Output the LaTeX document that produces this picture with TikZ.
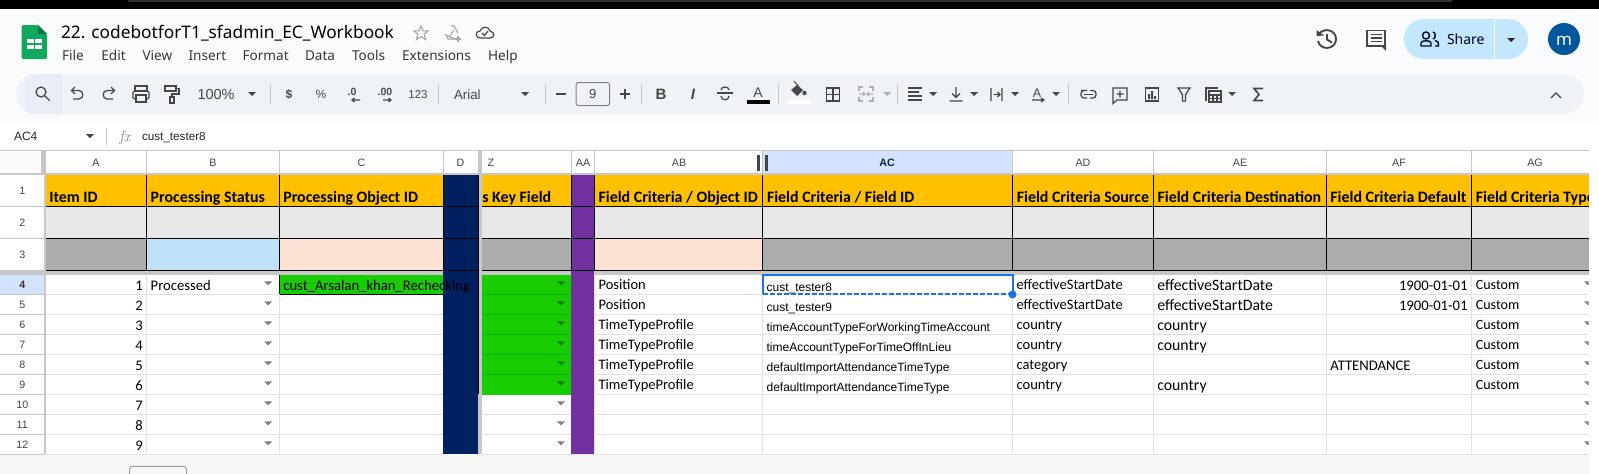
\documentclass[tikz,border=0pt]{standalone}
\usepackage{fontspec}
\newfontfamily\fcal{Carlito}
\newfontfamily\far{Liberation Sans}
\newfontfamily\fui{Noto Sans}
\newcommand\fsz[1]{\fontsize{#1}{#1}\selectfont}
\definecolor{appbg}{HTML}{F9FBFD}
\definecolor{tbar}{HTML}{EFF3F8}
\definecolor{tsel}{HTML}{E9EEF6}
\definecolor{icon}{HTML}{444746}
\definecolor{sepc}{HTML}{C7C7C7}
\definecolor{sharec}{HTML}{C2E7FF}
\definecolor{avatar}{HTML}{01579B}
\definecolor{sgreen}{HTML}{0FA85E}
\definecolor{bott}{HTML}{F6F8F6}
\definecolor{gridc}{HTML}{E1E1E1}
\definecolor{orangeh}{HTML}{FFC000}
\definecolor{lgray}{HTML}{E7E7E7}
\definecolor{dgray}{HTML}{ACACAC}
\definecolor{lblue}{HTML}{BFE2F6}
\definecolor{peach}{HTML}{FBE2D5}
\definecolor{navyc}{HTML}{002060}
\definecolor{purplec}{HTML}{7030A0}
\definecolor{greenc}{HTML}{17CC00}
\definecolor{greenl}{HTML}{13AE00}
\definecolor{selhead}{HTML}{D3E3FD}
\definecolor{selblue}{HTML}{1A73E8}
\definecolor{darktxt}{HTML}{444444}
\tikzset{
  x=1pt,y=-1pt,
  every node/.style={inner sep=0pt,outer sep=0pt,text=black},
  ic/.style={draw=icon,line width=1.25pt,fill=none},
  icf/.style={fill=icon,draw=none},
  sepl/.style={draw=sepc,line width=1pt},
  gridl/.style={draw=gridc,line width=1pt},
  blackl/.style={draw=black,line width=0.9pt},
  title/.style={font=\fui\fsz{17.3},anchor=base west},
  menu/.style={font=\fui\fsz{13.6},anchor=base west,text=darktxt!80!black},
  tool/.style={font=\far\fsz{13},anchor=base,text=icon},
  collab/.style={font=\far\fsz{10.7},anchor=base,text=darktxt},
  rowlab/.style={font=\far\fsz{10.7},anchor=base,text=darktxt},
  hdr/.style={font=\fcal\bfseries\fsz{15.9},anchor=base west},
  cella/.style={font=\fcal\fsz{14.67},anchor=base west},
  cellae/.style={font=\fcal\fsz{15.8},anchor=base west},
  cellb/.style={font=\fcal\fsz{14.5},anchor=base west},
  cellg/.style={font=\fcal\fsz{14.1},anchor=base west},
  cellc/.style={font=\far\fsz{12},anchor=base west},
  num/.style={font=\fcal\fsz{14.67},anchor=base east},
}
\newcount\tn
\newcommand\T[4]{\global\advance\tn by 1\relax\node[#1] (t\the\tn) at (#2,#3) {#4};}
\newcommand\tri[3]{\fill[#3] ({#1-4},{#2-2}) -- ({#1+4},{#2-2}) -- (#1,{#2+2}) -- cycle;}
\begin{document}
\begin{tikzpicture}
\useasboundingbox (0,0) rectangle (1599,474);
\fill[white] (0,0) rectangle (1599,474);
% window top
\fill[black] (0,0) rectangle (1599,8.5);
\begin{scope}
  \clip (0,0) rectangle (1599,8.5);
  \fill[black!82,rounded corners=2pt] (128,-4) rectangle (1453,2);
\end{scope}
% app bar
\fill[appbg] (0,8.5) rectangle (1599,122);
\fill[tbar,rounded corners=20pt] (16,74) rectangle (1584,114);
\begin{scope}
  \clip[rounded corners=20pt] (16,74) rectangle (1584,114);
  \fill[tsel] (25,74) rectangle (62,114);
\end{scope}
% sheets logo
\fill[sgreen,rounded corners=1.5pt] (21.5,25) -- (38,25) -- (47,34) -- (47,59) -- (21.5,59) -- cycle;
\fill[sgreen!70!black] (38,25) -- (47,34) -- (38,34) -- cycle;
\fill[white] (27,39) rectangle (42,49);
\draw[sgreen,line width=1.4pt] (34.5,39) -- (34.5,49) (27,44) -- (42,44);
% title and menu
\T{title}{61}{38}{22. codebotforT1\_sfadmin\_EC\_Workbook}
\foreach \mx/\mt in {62/File,101.4/Edit,142.5/View,188.6/Insert,242.5/Format,305/Data,352/Tools,402/Extensions,488/Help}{
  \node[menu] (m\mt) at (\mx,60) {\mt};
}
% star, drive, cloud
\begin{scope}[shift={(421,33)},draw=gray!70,line width=1.1pt]
  \draw (0,-7) -- (2,-2.2) -- (7,-2) -- (3.2,1.2) -- (4.5,6.5) -- (0,3.6) -- (-4.5,6.5) -- (-3.2,1.2) -- (-7,-2) -- (-2,-2.2) -- cycle;
\end{scope}
\begin{scope}[shift={(453,33)},draw=gray!70,line width=1.1pt]
  \draw (-2,-7) -- (1,-7) -- (5,0) (2,6) -- (-5,6) -- (-7,2) -- cycle (-3,3) -- (1,-3);
  \draw (5,3) -- (5,9) (2,6) -- (8,6);
\end{scope}
\begin{scope}[shift={(485,33)},draw=icon,line width=1.2pt]
  \draw (-5,5) .. controls (-10,5) and (-10,-2) .. (-5,-2) .. controls (-3,-7) and (4,-7) .. (5,-2) .. controls (10,-1) and (10,5) .. (5,5) -- cycle;
  \draw (-3,0) -- (-0.5,2.5) -- (3,-2);
\end{scope}
% right actions
\begin{scope}[shift={(1327,39)},draw=icon,line width=1.9pt]
  \draw (-8,-5) .. controls (-3,-12) and (9,-9) .. (9,0) .. controls (9,11) and (-7,12) .. (-9,2);
  \fill[icon] (-10.5,-9) -- (-3,-3.5) -- (-10.5,-3) -- cycle;
  \draw (0,-5) -- (0,0.5) -- (5,3.5);
\end{scope}
\begin{scope}[shift={(1376,39)},draw=icon,line width=1.9pt]
  \draw (-9,-8.5) rectangle (9,7);
  \fill[icon] (5,7) -- (10,7) -- (10,12) -- cycle;
  \draw[line width=1.4pt] (-5.5,-4.5) -- (5.5,-4.5) (-5.5,-1) -- (5.5,-1) (-5.5,2.5) -- (5.5,2.5);
\end{scope}
\fill[sharec,rounded corners=20pt] (1404,19) rectangle (1528,59);
\draw[white,line width=1pt] (1494.5,19) -- (1494.5,59);
\begin{scope}[shift={(1430,39)},draw=black!80!blue,line width=1.4pt]
  \draw (-4,-3.5) circle[radius=3.5pt];
  \draw (-9,7) -- (-9,4) .. controls (-9,1) and (1,1) .. (1,4) -- (1,7) -- cycle;
  \draw (3,-7) .. controls (6,-7) and (6,0) .. (3,0);
  \draw (5,1.5) .. controls (8,2) and (8.5,3) .. (8.5,7) -- (5,7);
\end{scope}
\node[font=\fui\fsz{14},anchor=base west,text=black!85!blue] (share) at (1447,44.5) {Share};
\tri{1511}{40}{black!85}
\fill[avatar] (1564,39) circle[radius=16pt];
\node[font=\fui\fsz{17},anchor=base,text=white] (avatarm) at (1564,45) {m};
% toolbar icons
\begin{scope}[ic]
  \draw (41,92) circle[radius=5pt]; \draw (44.6,95.6) -- (49.5,100.5);
  \draw (72,90.5) -- (79,90.5) .. controls (84,90.5) and (84,99) .. (79,99) -- (73,99);
  \draw (75,87) -- (71.5,90.5) -- (75,94);
  \draw (114,90.5) -- (107,90.5) .. controls (102,90.5) and (102,99) .. (107,99) -- (113,99);
  \draw (111,87) -- (114.5,90.5) -- (111,94);
  \draw (135,86) rectangle (147,91);
  \draw[rounded corners=1.5pt] (133,91) rectangle (149,99);
  \draw[fill=tbar] (136,95) rectangle (146,102);
  \draw (165,86) rectangle (176,91);
  \draw (176,88.5) -- (179,88.5) -- (179,94) -- (172,94) -- (172,97);
  \draw (170,97) rectangle (174,103);
\end{scope}
\T{font=\far\fsz{14.5},anchor=base west,text=icon}{197.5}{99}{100\%}
\tri{252}{94}{icon}
\draw[sepl] (270,84) -- (270,104);
\T{font=\far\bfseries\fsz{12},anchor=base,text=icon}{289}{98.5}{\$}
\T{font=\far\fsz{12},anchor=base,text=icon}{321}{98.5}{\%}
\T{font=\far\bfseries\fsz{10.5},anchor=base,text=icon}{352}{95}{.0}
\T{font=\far\bfseries\fsz{10.5},anchor=base,text=icon}{385}{95}{.00}
\draw[icon,line width=1.2pt] (360,100) -- (352,100) (354.5,98) -- (352,100) -- (354.5,102);
\draw[icon,line width=1.2pt] (383,100) -- (391,100) (388.5,98) -- (391,100) -- (388.5,102);
\T{font=\far\fsz{11.5},anchor=base,text=icon}{418}{98.5}{123}
\draw[sepl] (438,84) -- (438,104);
\T{font=\far\fsz{13.3},anchor=base west,text=icon}{454}{99}{Arial}
\tri{525}{94}{icon}
\draw[sepl] (545,84) -- (545,104);
\draw[icon,line width=1.5pt] (556,94) -- (566,94);
\draw[draw=gray,line width=1pt,rounded corners=2.5pt] (576,82.5) rectangle (609.5,105.5);
\T{font=\far\fsz{13},anchor=base,text=icon}{592.8}{98.5}{9}
\draw[icon,line width=1.6pt] (620,94) -- (630,94) (625,89) -- (625,99);
\draw[sepl] (641.4,84) -- (641.4,104);
\T{font=\far\bfseries\fsz{15},anchor=base,text=icon}{661}{99.5}{B}
\T{font=\far\bfseries\itshape\fsz{15},anchor=base,text=icon}{693}{99.5}{I}
\begin{scope}[shift={(725,94)},ic]
  \draw (-8,-1) -- (8,-1);
  \draw (-4,-4) .. controls (-4,-8) and (4,-8) .. (4,-4);
  \draw (-4,2) .. controls (-4,7) and (4,7) .. (4,2);
\end{scope}
\T{font=\far\fsz{14},anchor=base,text=icon}{758}{97.5}{A}
\fill[black] (747,100) rectangle (770,104);
\draw[sepl] (778,84) -- (778,104);
\begin{scope}[shift={(797,90)}]
  \fill[icon] (-6,0) -- (0,-5) -- (6,0) -- (0,6) -- cycle;
  \draw[icon,line width=1pt] (-3,-9) -- (2,-3);
  \fill[icon] (7.5,3) circle[radius=2.2pt];
\end{scope}
\fill[white] (788,100) rectangle (811,104);
\draw[ic] (826.5,88) rectangle (839.5,101) (833,88) -- (833,101) (826.5,94.5) -- (839.5,94.5);
\begin{scope}[shift={(866,94)},draw=gray!60,line width=1.3pt]
  \draw (-7,-3) -- (-7,-7) -- (-3,-7) (3,-7) -- (7,-7) -- (7,-3) (-7,3) -- (-7,7) -- (-3,7) (3,7) -- (7,7) -- (7,3);
  \draw (-7,0) -- (-1,0) (-3,-2) -- (-1,0) -- (-3,2) (7,0) -- (1,0) (3,-2) -- (1,0) -- (3,2);
\end{scope}
\tri{887}{94}{gray!60}
\draw[sepl] (897.5,84) -- (897.5,104);
\draw[ic] (908,88) -- (922,88) (908,92) -- (919,92) (908,96) -- (922,96) (908,100) -- (922,100);
\tri{933}{94}{icon}
\draw[ic] (956,87) -- (956,97) (952,93.5) -- (956,97.5) -- (960,93.5) (949.5,101) -- (962.5,101);
\tri{974}{94}{icon}
\draw[ic] (991,88) -- (991,101) (1002,88) -- (1002,101) (993.5,94.5) -- (1000,94.5) (997.5,92) -- (1000,94.5) -- (997.5,97);
\tri{1015}{94}{icon}
\T{font=\far\fsz{12.5},anchor=base,text=icon}{1037}{97}{A}
\draw[icon,line width=1.2pt] (1032,100) -- (1044,100) (1041,98) -- (1044,100) -- (1041,102);
\tri{1056}{94}{icon}
\draw[sepl] (1068,84) -- (1068,104);
\draw[ic,rounded corners=3pt] (1086,90.5) -- (1084,90.5) -- (1081,90.5) -- (1081,98) -- (1087,98);
\draw[ic,rounded corners=3pt] (1090,90.5) -- (1096,90.5) -- (1096,98) -- (1090,98);
\draw[ic] (1084,94.3) -- (1093,94.3);
\draw[ic] (1113,88) -- (1127,88) -- (1127,100) -- (1117,100) -- (1113,103.5) -- cycle (1120,90.5) -- (1120,97.5) (1116.5,94) -- (1123.5,94);
\draw[ic] (1145.5,88) rectangle (1158.5,101);
\fill[icon] (1148,94) rectangle (1150,99) (1151,91) rectangle (1153,99) (1154,96) rectangle (1156,99);
\draw[ic] (1178,88) -- (1190,88) -- (1185.5,94.5) -- (1185.5,101) -- (1182.5,101) -- (1182.5,94.5) -- cycle;
\draw[ic] (1206,101) -- (1206,88) -- (1218,88);
\draw[ic] (1209,91) rectangle (1221,102) (1209,95) -- (1221,95) (1209,98.5) -- (1221,98.5) (1213,95) -- (1213,102) (1217,95) -- (1217,102);
\tri{1232}{94}{icon}
\draw[ic,line width=1.6pt] (1263,88.5) -- (1254,88.5) -- (1259,94.5) -- (1254,100.5) -- (1263,100.5);
\draw[ic] (1551,98) -- (1556,93) -- (1561,98);
% formula bar
\T{font=\far\fsz{12},anchor=base west,text=black!85}{14}{140.5}{AC4}
\tri{90}{136}{icon}
\draw[sepl] (106.4,128) -- (106.4,145);
\T{font=\rmfamily\itshape\fsz{15},anchor=base,text=gray}{125}{141}{fx}
\T{font=\far\fsz{11.7},anchor=base west,text=black!85}{142}{140.5}{cust\_tester8}
% sheet background
\fill[bott] (0,454.3) rectangle (1588.5,474);
\draw[draw=gray!80,line width=0.9pt,rounded corners=3pt] (129.5,476) -- (129.5,466.3) -- (186.5,466.3) -- (186.5,476);
% sheet header strips
\fill[black!2] (0,151) rectangle (41,170);
\fill[selhead] (762.5,151) rectangle (1012.5,174.3);
\fill[selhead] (0,275) rectangle (45,294.3);
% fills
\fill[orangeh] (46,174.5) rectangle (443,206.3);
\fill[orangeh] (482,174.5) rectangle (1588.5,206.3);
\fill[lgray] (46,206.3) rectangle (443,238.3);
\fill[lgray] (482,206.3) rectangle (1588.5,238.3);
\fill[dgray] (46,238.3) rectangle (443,270.3);
\fill[dgray] (482,238.3) rectangle (1588.5,270.3);
\fill[lblue] (146.5,238.3) rectangle (279.5,270.3);
\fill[peach] (279.5,238.3) rectangle (443,270.3);
\fill[peach] (594.3,238.3) rectangle (762.5,270.3);
\fill[greenc] (279.5,274.7) rectangle (443,294.3);
\fill[greenc] (482,274.7) rectangle (571.4,394.3);
% grid of the data rows
\foreach \yy in {294.3,314.3,334.3,354.3,374.3,394.3,414.3,434.3,454.3}{
  \draw[gridl] (46,\yy) -- (443,\yy);
  \draw[gridl] (482,\yy) -- (1588.5,\yy);
  \draw[sepl] (0,\yy) -- (45,\yy);
}
\foreach \xx in {146.5,279.5,594.3,762.5,1012.5,1153,1326.3,1471.3}{
  \draw[gridl] (\xx,274.7) -- (\xx,454.3);
}
\foreach \yy in {294.3,314.3,334.3,354.3,374.3}{\draw[greenl,line width=0.8pt] (482,\yy) -- (571.4,\yy);}
\fill[greenc] (482,393.8) rectangle (571.4,394.8);
% header separators
\draw[sepc,line width=1.2pt] (0,150.5) -- (1588.5,150.5);
\foreach \xx in {146.5,279.5,443,571.4,594.3,762.5,1012.5,1153,1326.3,1471.3}{
  \draw[sepl] (\xx,151) -- (\xx,174);
}
\foreach \yy in {206.3,238.3,270.3}{\draw[sepl] (0,\yy) -- (45,\yy);}
% frozen bands
\fill[sepc] (0,172.6) rectangle (1588.5,174.6);
\fill[sepc] (0,270.3) rectangle (1588.5,274.7);
\fill[sepc] (478,151) rectangle (482,454.3);
\fill[sepc] (41,151) rectangle (45.5,174.6);
\fill[sepc] (44.2,151) rectangle (45.8,454.3);
% navy and purple columns
\fill[navyc] (443,174.5) rectangle (477.7,454.3);
\fill[purplec] (571.4,174.5) rectangle (594.3,454.3);
% black borders
\foreach \yy in {206.3,238.3}{\draw[blackl] (46,\yy) -- (478,\yy) (482,\yy) -- (1588.5,\yy);}
\draw[black,line width=1.2pt] (46,270.3) -- (478,270.3) (482,270.3) -- (1588.5,270.3);
\foreach \xx in {146.5,279.5,443,571.4,594.3,762.5,1012.5,1153,1326.3,1471.3}{
  \draw[blackl] (\xx,174.5) -- (\xx,270.3);
}
\draw[black,line width=0.9pt] (478,174.5) -- (478,394.3);
\draw[blackl] (279.5,294.3) -- (443,294.3);
\draw[blackl] (279.5,274.7) -- (279.5,294.3);
% column letters
\foreach \cx/\cl in {96/A,213/B,361.5/C,460.5/D,491/Z,583/AA,679/AB,1083/AD,1240/AE,1399/AF,1535/AG}{
  \node[collab] (c\cl) at (\cx,166) {\cl};
}
\node[collab,text=selblue!30!black] (cAC) at (887,166) {\textbf{AC}};
\fill[darktxt] (757.4,155) rectangle (760,171);
\fill[darktxt] (765.2,155) rectangle (767.8,171);
% row numbers
\foreach \ry/\rl in {194/1,226.3/2,258/3,308/5,328/6,348/7,368/8,388/9,408/10,428/11,448/12}{
  \node[rowlab] (r\rl) at (22.3,\ry) {\rl};
}
\node[rowlab,font=\far\bfseries\fsz{10.7},text=black!80] (r4) at (22.3,288) {4};
% header texts
\T{hdr}{49.3}{202}{Item ID}
\T{hdr}{150.7}{202}{Processing Status}
\T{hdr}{283.3}{202}{Processing Object ID}
\T{hdr}{482.3}{202}{s Key Field}
\T{hdr}{598.6}{202}{Field Criteria / Object ID}
\T{hdr}{767}{202}{Field Criteria / Field ID}
\T{hdr}{1016.8}{202}{Field Criteria Source}
\T{hdr}{1157.6}{202}{Field Criteria Destination}
\T{hdr}{1330.4}{202}{Field Criteria Default}
\begin{scope}
  \clip (1471.3,175) rectangle (1588.5,206);
  \T{hdr}{1475.8}{202}{Field Criteria Type}
\end{scope}
% columns A, B, Z and AG: numbers and dropdowns
\foreach \i/\ly/\ty in {1/290.5/283.3,2/310.5/303.3,3/330.5/323.3,4/350.5/343.3,5/370.5/363.3,6/390.5/383.3,7/410.5/403.3,8/430.5/423.3,9/450.5/443.3}{
  \node[num] (n\i) at (142.7,\ly) {\i};
  \tri{268.3}{\ty}{gray}
}
\foreach \ty in {283.3,303.3,323.3,343.3,363.3,383.3}{\tri{561}{\ty}{greenl!70!black}}
\foreach \ty in {403.3,423.3,443.3}{\tri{561}{\ty}{gray}}
\begin{scope}
  \clip (1471.3,275) rectangle (1588.5,454);
  \foreach \ty in {283.3,303.3,323.3,343.3,363.3,383.3,403.3,423.3,443.3}{\tri{1588}{\ty}{gray}}
\end{scope}
\T{cella}{150.7}{290.5}{Processed}
\T{cella}{283.3}{290.5}{cust\_Arsalan\_khan\_Rechecking}
% AB
\T{cellb}{598.6}{289.7}{Position}
\T{cellb}{598.6}{309.7}{Position}
\T{cellb}{598.6}{329.7}{TimeTypeProfile}
\T{cellb}{598.6}{349.7}{TimeTypeProfile}
\T{cellb}{598.6}{369.7}{TimeTypeProfile}
\T{cellb}{598.6}{389.7}{TimeTypeProfile}
% AC
\T{cellc}{766.6}{291}{cust\_tester8}
\T{cellc}{766.6}{311}{cust\_tester9}
\T{cellc}{766.6}{331}{timeAccountTypeForWorkingTimeAccount}
\T{cellc}{766.6}{351}{timeAccountTypeForTimeOffInLieu}
\T{cellc}{766.6}{371}{defaultImportAttendanceTimeType}
\T{cellc}{766.6}{391}{defaultImportAttendanceTimeType}
% AD
\T{cellb}{1016.6}{289}{effectiveStartDate}
\T{cellb}{1016.6}{309}{effectiveStartDate}
\T{cellb}{1016.6}{329}{country}
\T{cellb}{1016.6}{349}{country}
\T{cellb}{1016.6}{369}{category}
\T{cellb}{1016.6}{389}{country}
% AE
\T{cellae}{1157.3}{290}{effectiveStartDate}
\T{cellae}{1157.3}{310}{effectiveStartDate}
\T{cellae}{1157.3}{330}{country}
\T{cellae}{1157.3}{350}{country}
\T{cellae}{1157.3}{390}{country}
% AF
\T{font=\fcal\fsz{14.67},anchor=base east}{1467.5}{290}{1900-01-01}
\T{font=\fcal\fsz{14.67},anchor=base east}{1467.5}{310}{1900-01-01}
\T{cella}{1330.4}{370}{ATTENDANCE}
% AG
\foreach \gy in {289,309,329,349,369,389}{
  \node[cellg] (g\gy) at (1475.8,\gy) {Custom};
}
% active cell
\draw[selblue,line width=2pt] (762.5,294.3) -- (762.5,275.3) -- (1012.5,275.3) -- (1012.5,294.3);
\draw[selblue,line width=2pt,dash pattern=on 5pt off 2pt] (762.5,294.3) -- (1012.5,294.3);
\fill[selblue] (1012.5,294.5) circle[radius=4pt];
\end{tikzpicture}
\end{document}
